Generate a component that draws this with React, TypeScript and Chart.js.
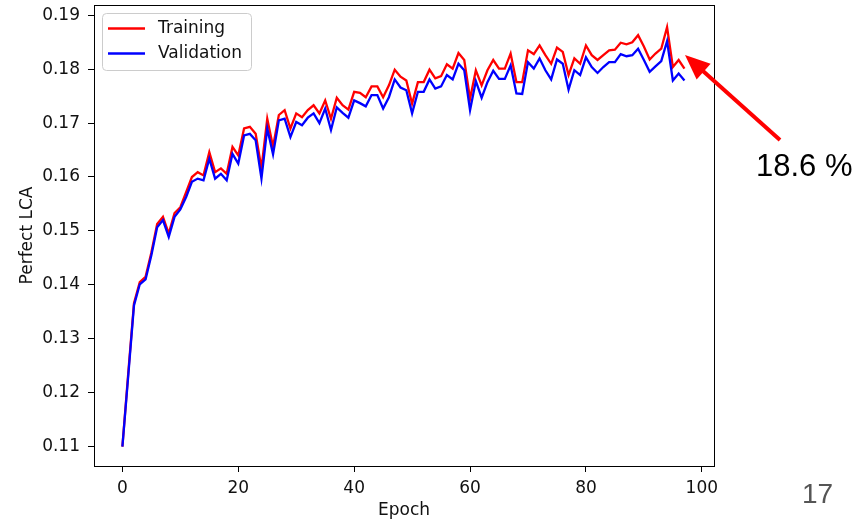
import { useEffect, useRef } from "react";
import { Chart, registerables } from "chart.js";

Chart.register(...registerables);

const training = [
  0.1100, 0.1235, 0.1366, 0.1405, 0.1415, 0.1460, 0.1513, 0.1526, 0.1495, 0.1533,
  0.1544, 0.1572, 0.1600, 0.1609, 0.1603, 0.1646, 0.1609, 0.1616, 0.1606, 0.1656,
  0.1640, 0.1690, 0.1693, 0.1680, 0.1616, 0.1708, 0.1656, 0.1715, 0.1724, 0.1690,
  0.1718, 0.1711, 0.1724, 0.1733, 0.1718, 0.1742, 0.1708, 0.1747, 0.1733, 0.1725,
  0.1758, 0.1756, 0.1748, 0.1768, 0.1768, 0.1748, 0.1770, 0.1799, 0.1786, 0.1779,
  0.1736, 0.1776, 0.1776, 0.1799, 0.1783, 0.1787, 0.1809, 0.1801, 0.1830, 0.1817,
  0.1745, 0.1798, 0.1770, 0.1798, 0.1817, 0.1801, 0.1801, 0.1829, 0.1776, 0.1776,
  0.1835, 0.1828, 0.1844, 0.1826, 0.1810, 0.1840, 0.1832, 0.1789, 0.1820, 0.1810,
  0.1844, 0.1826, 0.1817, 0.1826, 0.1835, 0.1836, 0.1849, 0.1846, 0.1850, 0.1863,
  0.1842, 0.1818, 0.1829, 0.1838, 0.1878, 0.1804, 0.1817, 0.1801,
];

const validation = [
  0.1100, 0.1230, 0.1362, 0.1401, 0.1410, 0.1455, 0.1507, 0.1520, 0.1489, 0.1526,
  0.1540, 0.1563, 0.1591, 0.1597, 0.1594, 0.1634, 0.1597, 0.1606, 0.1594, 0.1643,
  0.1625, 0.1677, 0.1680, 0.1668, 0.1597, 0.1690, 0.1642, 0.1705, 0.1708, 0.1674,
  0.1702, 0.1696, 0.1710, 0.1718, 0.1700, 0.1727, 0.1687, 0.1729, 0.1719, 0.1710,
  0.1742, 0.1737, 0.1731, 0.1752, 0.1752, 0.1727, 0.1748, 0.1781, 0.1766, 0.1761,
  0.1718, 0.1758, 0.1758, 0.1781, 0.1764, 0.1768, 0.1789, 0.1781, 0.1810, 0.1798,
  0.1724, 0.1778, 0.1747, 0.1776, 0.1797, 0.1782, 0.1782, 0.1807, 0.1755, 0.1754,
  0.1813, 0.1801, 0.1820, 0.1798, 0.1781, 0.1818, 0.1810, 0.1762, 0.1798, 0.1789,
  0.1822, 0.1804, 0.1793, 0.1804, 0.1813, 0.1813, 0.1828, 0.1824, 0.1826, 0.1838,
  0.1817, 0.1795, 0.1805, 0.1815, 0.1852, 0.1779, 0.1792, 0.1779,
];

const xTicks = [0, 20, 40, 60, 80, 100];
const yTicks = [0.11, 0.12, 0.13, 0.14, 0.15, 0.16, 0.17, 0.18, 0.19];
const seriesNames = ["Training", "Validation"];
const seriesColors = ["#ff0000", "#0000ff"];
const annotationText = "18.6 %";
const pageNumber = "17";

const FONT = "DejaVu Sans";

export default function App() {
  const ref = useRef<HTMLCanvasElement>(null);

  useEffect(() => {
    const canvas = ref.current;
    if (!canvas) return;

    const overlay = {
      id: "overlay",
      afterDraw(chart: any) {
        const ctx: CanvasRenderingContext2D = chart.ctx;
        const a = chart.chartArea;
        ctx.save();
        // frame
        ctx.strokeStyle = "#000";
        ctx.lineWidth = 1;
        ctx.strokeRect(Math.round(a.left) + 0.5, Math.round(a.top) + 0.5, Math.round(a.right - a.left), Math.round(a.bottom - a.top));

        // legend
        const lx = 102.5, ly = 13.5, lw = 149, lh = 57;
        ctx.beginPath();
        (ctx as any).roundRect(lx, ly, lw, lh, 4);
        ctx.fillStyle = "rgba(255,255,255,0.8)";
        ctx.fill();
        ctx.strokeStyle = "#cccccc";
        ctx.lineWidth = 1;
        ctx.stroke();
        const rows = [28.5, 53.5];
        seriesNames.forEach((name, i) => {
          ctx.beginPath();
          ctx.strokeStyle = seriesColors[i];
          ctx.lineWidth = 2.3;
          ctx.moveTo(108, rows[i]);
          ctx.lineTo(145, rows[i]);
          ctx.stroke();
          ctx.fillStyle = "#111";
          ctx.font = `17px "${FONT}"`;
          ctx.textAlign = "left";
          ctx.textBaseline = "middle";
          ctx.fillText(name, 158, rows[i]);
        });

        // arrow
        const tip = { x: 685, y: 55 };
        const tail = { x: 780, y: 140 };
        const dx = tip.x - tail.x, dy = tip.y - tail.y;
        const len = Math.hypot(dx, dy);
        const ux = dx / len, uy = dy / len;
        const headLen = 25, half = 10.5;
        const bx = tip.x - ux * headLen, by = tip.y - uy * headLen;
        ctx.strokeStyle = "#ff0000";
        ctx.fillStyle = "#ff0000";
        ctx.lineWidth = 4;
        ctx.beginPath();
        ctx.moveTo(tail.x, tail.y);
        ctx.lineTo(bx + ux * 2, by + uy * 2);
        ctx.stroke();
        ctx.beginPath();
        ctx.moveTo(tip.x, tip.y);
        ctx.lineTo(bx - uy * half, by + ux * half);
        ctx.lineTo(bx + uy * half, by - ux * half);
        ctx.closePath();
        ctx.fill();

        // annotation text
        ctx.fillStyle = "#000";
        ctx.font = `31px "Liberation Sans"`;
        ctx.textAlign = "left";
        ctx.textBaseline = "alphabetic";
        ctx.fillText(annotationText, 756, 176);

        // page number
        ctx.fillStyle = "#555";
        ctx.font = `28px "Liberation Sans"`;
        ctx.fillText(pageNumber, 802, 503);
        ctx.restore();
      },
    };

    const tickFont = { family: FONT, size: 17 };
    const zeroPad = (s: any) => {
      s.paddingTop = 0;
      s.paddingBottom = 0;
      s.paddingLeft = 0;
      s.paddingRight = 0;
    };

    const chart = new Chart(canvas, {
      type: "line",
      data: {
        datasets: [
          {
            label: seriesNames[0],
            data: training.map((y, i) => ({ x: i, y })),
            borderColor: seriesColors[0],
            backgroundColor: seriesColors[0],
            order: 1,
          },
          {
            label: seriesNames[1],
            data: validation.map((y, i) => ({ x: i, y })),
            borderColor: seriesColors[1],
            backgroundColor: seriesColors[1],
            order: 0,
          },
        ],
      },
      options: {
        responsive: false,
        animation: false,
        devicePixelRatio: 1,
        layout: { padding: { left: 0, top: 5, right: 146, bottom: 0 } },
        elements: {
          point: { radius: 0 },
          line: { borderWidth: 2.3, tension: 0 },
        },
        plugins: {
          legend: { display: false },
          tooltip: { enabled: false },
        },
        scales: {
          x: {
            type: "linear",
            min: -4.9,
            max: 102.1,
            afterBuildTicks: (s: any) => {
              s.ticks = xTicks.map((v) => ({ value: v }));
            },
            afterFit: (s: any) => {
              s.height = 53;
              zeroPad(s);
            },
            grid: {
              display: true,
              drawOnChartArea: false,
              drawTicks: true,
              tickLength: 6,
              tickColor: "#000",
              tickWidth: 1,
            },
            border: { display: false },
            ticks: {
              font: tickFont,
              color: "#111",
              padding: 6,
              maxRotation: 0,
              autoSkip: false,
              callback: (v: any) => String(v),
            },
            title: {
              display: true,
              text: "Epoch",
              font: { family: FONT, size: 17, lineHeight: 1 },
              color: "#111",
              padding: { top: 0, bottom: 0 },
            },
          },
          y: {
            type: "linear",
            min: 0.1064,
            max: 0.1919,
            afterBuildTicks: (s: any) => {
              s.ticks = yTicks.map((v) => ({ value: v }));
            },
            afterFit: (s: any) => {
              s.width = 94;
              zeroPad(s);
            },
            grid: {
              display: true,
              drawOnChartArea: false,
              drawTicks: true,
              tickLength: 6,
              tickColor: "#000",
              tickWidth: 1,
            },
            border: { display: false },
            ticks: {
              font: tickFont,
              color: "#111",
              padding: 8,
              autoSkip: false,
              callback: (v: any) => Number(v).toFixed(2),
            },
            title: {
              display: true,
              text: "Perfect LCA",
              font: { family: FONT, size: 17, lineHeight: 1 },
              color: "#111",
              padding: { top: 19, bottom: 0 },
            },
          },
        },
      },
      plugins: [overlay],
    } as any);

    return () => chart.destroy();
  }, []);

  return (
    <div style={{ position: "fixed", left: 0, top: 0, width: 860, height: 519, background: "#fff" }}>
      <canvas ref={ref} width={860} height={519} style={{ display: "block" }} />
    </div>
  );
}
